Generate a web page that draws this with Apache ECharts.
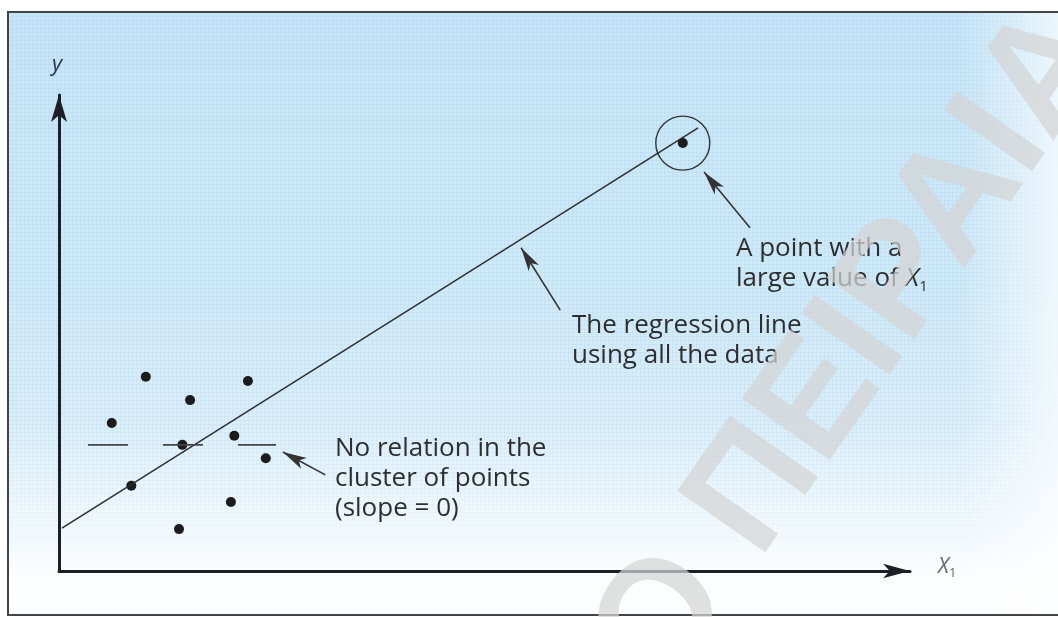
<!DOCTYPE html>
<html>
<head>
<meta charset="utf-8">
<script src="https://cdn.jsdelivr.net/npm/echarts@6/dist/echarts.min.js"></script>
<style>
  html, body { margin: 0; padding: 0; background: #fff; }
  #chart { width: 1058px; height: 617px; }
</style>
</head>
<body>
<div id="chart"></div>
<script>
// the cluster of points with no relation between x1 and y
const clusterPoints = [
  [10.2, 40.8], [22.2, 39.9], [15.4, 35.9], [6.2, 31.1], [20.6, 28.4],
  [14.5, 26.5], [24.3, 23.7], [8.5, 17.9], [20.2, 14.5], [14.1, 8.8]
];
// the single point with a large value of x1
const outlierPoint = [73.3, 89.9];
// regression line fitted on all the data
const regressionLine = [[0.35, 9.0], [75.1, 93.1]];
// slope = 0 line through the cluster
const clusterLine = [[3.4, 26.5], [25.5, 26.5]];
// annotation arrows: tail -> tip
const arrowLines = [
  [[31.3, 20.2], [26.3, 25.0]],
  [[58.9, 54.8], [54.3, 67.9]],
  [[81.2, 72.1], [75.8, 83.8]]
];
const notes = [
  { text: 'A point with a\nlarge value of {x|X}{sub|1}', x: 736, y: 234 },
  { text: 'The regression line\nusing all the data', x: 572, y: 311 },
  { text: 'No relation in the\ncluster of points\n(slope = 0)', x: 335, y: 434 }
];

const font = '"Open Sans", "Noto Sans", sans-serif';
const chartInstance = echarts.init(document.getElementById('chart'), null, { renderer: 'canvas' });

// halftone dots of the printed page
const dots = document.createElement('canvas');
dots.width = 4;
dots.height = 4;
const g = dots.getContext('2d');
g.fillStyle = 'rgba(160, 150, 220, 0.09)';
g.fillRect(0, 0, 4, 1);
g.fillRect(0, 0, 1, 4);

const option = {
  animation: false,
  grid: { left: 59, right: 148, top: 95, bottom: 46 },
  xAxis: {
    type: 'value',
    min: 0,
    max: 100,
    name: '{x|X}{sub|1}',
    nameLocation: 'end',
    nameGap: 28,
    nameTextStyle: {
      padding: [0, 0, 8, 0],
      rich: {
        x: { fontFamily: font, fontStyle: 'italic', fontSize: 21, color: '#666', lineHeight: 26 },
        sub: { fontFamily: font, fontSize: 13, color: '#666', lineHeight: 26, verticalAlign: 'bottom' }
      }
    },
    axisLine: {
      show: true,
      onZero: false,
      symbol: ['none', 'arrow'],
      symbolSize: [11, 27],
      lineStyle: { color: '#1e1e26', width: 3 }
    },
    axisTick: { show: false },
    axisLabel: { show: false },
    splitLine: { show: false }
  },
  yAxis: {
    type: 'value',
    min: 0,
    max: 100,
    name: 'y',
    nameLocation: 'end',
    nameGap: 19,
    nameTextStyle: { fontFamily: font, fontStyle: 'italic', fontSize: 22, color: '#2b3550', align: 'center', padding: [0, 4, 0, 0] },
    axisLine: {
      show: true,
      onZero: false,
      symbol: ['none', 'arrow'],
      symbolSize: [12, 27],
      lineStyle: { color: '#1e1e26', width: 3 }
    },
    axisTick: { show: false },
    axisLabel: { show: false },
    splitLine: { show: false }
  },
  graphic: [
    {
      type: 'rect', z: -10, silent: true,
      shape: { x: 8, y: 12, width: 1060, height: 603 },
      style: {
        fill: new echarts.graphic.LinearGradient(0, 0, 0, 1, [
          { offset: 0, color: '#c4e5f7' },
          { offset: 0.45, color: '#cdeaf8' },
          { offset: 1, color: '#e6f5fb' }
        ])
      }
    },
    {
      type: 'rect', z: -9, silent: true,
      shape: { x: 8, y: 12, width: 1060, height: 603 },
      style: { fill: { image: dots, repeat: 'repeat' } }
    },
    {
      type: 'rect', z: -8, silent: true,
      shape: { x: 8, y: 420, width: 1060, height: 195 },
      style: {
        fill: new echarts.graphic.LinearGradient(0, 0, 0, 1, [
          { offset: 0, color: 'rgba(255,255,255,0)' },
          { offset: 0.6, color: 'rgba(255,255,255,0.6)' },
          { offset: 0.8, color: 'rgba(255,255,255,0.9)' },
          { offset: 1, color: 'rgba(255,255,255,0.95)' }
        ])
      }
    },
    {
      type: 'rect', z: -8, silent: true,
      shape: { x: 960, y: 12, width: 100, height: 603 },
      style: {
        fill: new echarts.graphic.LinearGradient(0, 0, 1, 0, [
          { offset: 0, color: 'rgba(255,255,255,0)' },
          { offset: 1, color: 'rgba(255,255,255,0.7)' }
        ])
      }
    },
    {
      type: 'rect', z: -7, silent: true,
      shape: { x: 8, y: 12, width: 1060, height: 603 },
      style: { fill: 'none', stroke: '#444', lineWidth: 2 }
    },
    ...notes.map((n) => ({
      type: 'text', z: 5, silent: true,
      x: n.x, y: n.y,
      style: {
        text: n.text,
        font: '26px ' + font,
        fill: '#2e2e2e',
        lineHeight: 30,
        verticalAlign: 'top',
        rich: {
          x: { fontFamily: font, fontSize: 26, fontStyle: 'italic', fill: '#2e2e2e', lineHeight: 30 },
          sub: { fontFamily: font, fontSize: 15, fill: '#2e2e2e', lineHeight: 30, verticalAlign: 'bottom' }
        }
      }
    })),
    // watermark of the scan
    {
      type: 'text', z: 20, silent: true,
      x: 724, y: 536, rotation: 55 * Math.PI / 180,
      style: {
        text: 'ΠΕΙΡΑΙΑ',
        font: 'bold 156px "Liberation Sans", sans-serif',
        fill: 'rgba(212,212,212,0.72)',
        align: 'left',
        verticalAlign: 'middle'
      }
    },
    {
      type: 'text', z: 20, silent: true,
      x: 699, y: 571, rotation: 55 * Math.PI / 180,
      style: {
        text: 'ΠΑΝΕΠΙΣΤΗΜΙΟ',
        font: 'bold 156px "Liberation Sans", sans-serif',
        fill: 'rgba(212,212,212,0.72)',
        align: 'right',
        verticalAlign: 'middle'
      }
    }
  ],
  series: [
    {
      type: 'line',
      data: regressionLine,
      symbol: 'none',
      lineStyle: { color: '#2b2b2b', width: 1.4 },
      silent: true
    },
    {
      type: 'line',
      data: clusterLine,
      symbol: 'none',
      lineStyle: { color: '#444', width: 1.6, type: [40, 35] },
      silent: true
    },
    {
      type: 'scatter',
      data: clusterPoints.concat([outlierPoint]),
      symbol: 'circle',
      symbolSize: 10,
      itemStyle: { color: '#1c1c1c', opacity: 1 },
      silent: true
    },
    {
      type: 'scatter',
      data: [outlierPoint],
      symbol: 'circle',
      symbolSize: 54,
      itemStyle: { color: 'rgba(0,0,0,0)', borderColor: '#333', borderWidth: 1.4, opacity: 1 },
      silent: true
    },
    {
      type: 'lines',
      coordinateSystem: 'cartesian2d',
      data: arrowLines.map((c) => ({ coords: c })),
      symbol: ['none', 'arrow'],
      symbolSize: [0, [9, 24]],
      symbolOffset: [0, [0, 12]],
      lineStyle: { color: '#333', width: 1.6, opacity: 1 },
      silent: true
    }
  ]
};
chartInstance.setOption(option);
</script>
</body>
</html>
